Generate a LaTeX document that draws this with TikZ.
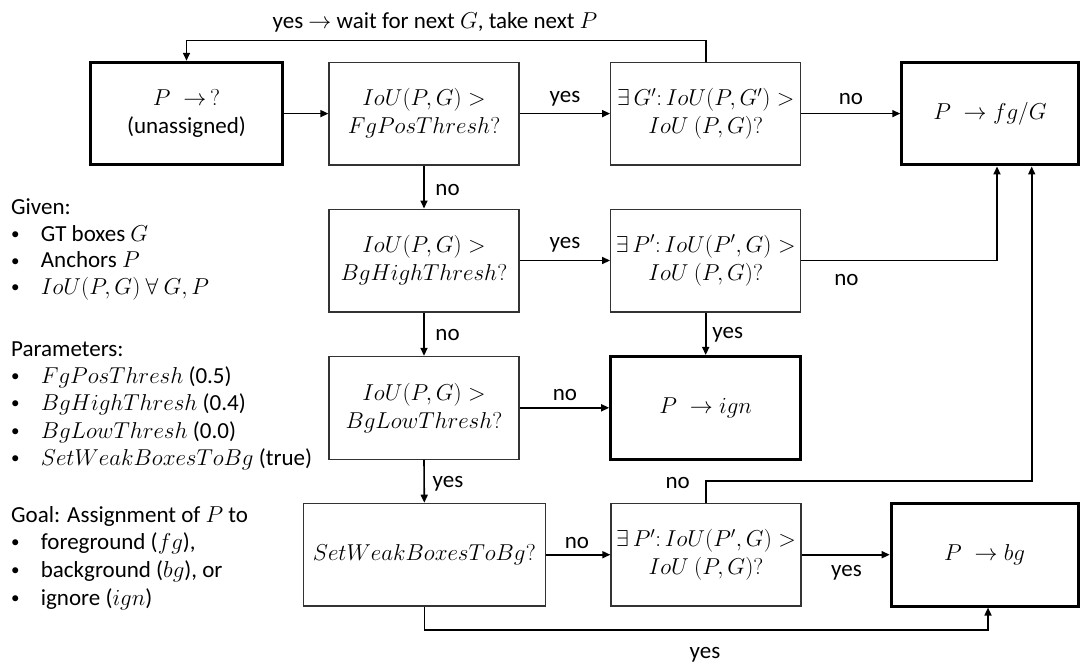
\RequirePackage{fix-cm}
\documentclass[tikz,border=0pt]{standalone}
\usepackage{fontspec}
\setmainfont{Carlito}
\usetikzlibrary{arrows.meta}

% small list bullet followed by the item indent
\newcommand{\itemdot}{\makebox[30.7pt][l]{\hspace{1pt}\raisebox{1.5pt}{\fontsize{17}{17}\selectfont •}}}

\begin{document}
\begin{tikzpicture}[x=1pt,y=-1pt,
  every node/.style={font=\fontsize{23}{28}\selectfont},
  box/.style={draw=black!80, line width=1.3pt, minimum height=102.7pt,
    inner sep=0pt, align=center},
  tbox/.style={box, draw=black, line width=3pt},
  arr/.style={draw=black, line width=1.6pt, -{Triangle[length=8pt,width=7pt]}},
  lbl/.style={inner sep=0pt},
  item/.style={anchor=base west, inner sep=0pt},
]
\useasboundingbox (0,0) rectangle (1081,664);

% decision and result boxes
\node[tbox, minimum width=191.8pt] (start) at (186.5,113.6) {$P\;\rightarrow\,?$\\(unassigned)};
\node[box, minimum width=190pt] (qfg) at (424,113.6) {$IoU(P,G) >$\\$FgPosThresh?$};
\node[box, minimum width=190pt] (qbestG) at (705.7,113.6) {$\exists\,G'\colon IoU(P,G') >$\\$IoU\ (P,G)?$};
\node[tbox, minimum width=176.3pt] (fg) at (989.9,113.6) {$P\;\rightarrow fg/G$};

\node[box, minimum width=190pt] (qhigh) at (424,260.5) {$IoU(P,G) >$\\$BgHighThresh?$};
\node[box, minimum width=190pt] (qbestP) at (705.7,260.5) {$\exists\,P'\colon IoU(P',G) >$\\$IoU\ (P,G)?$};

\node[box, minimum width=190pt] (qlow) at (424,407.8) {$IoU(P,G) >$\\$BgLowThresh?$};
\node[tbox, minimum width=190pt] (ign) at (705.7,407.8) {$P\;\rightarrow ign$};

\node[box, minimum width=242pt] (qweak) at (424.3,554.7) {$SetWeakBoxesToBg?$};
\node[box, minimum width=190pt] (qbestPw) at (706,554.7) {$\exists\,P'\colon IoU(P',G) >$\\$IoU\ (P,G)?$};
\node[tbox, minimum width=186.8pt] (bg) at (984.6,554.7) {$P\;\rightarrow bg$};

% routing helpers
\coordinate (loopY) at (0,40.5);
\coordinate (railY) at (0,481);
\coordinate (lowY) at (0,630);
\coordinate (xA) at (997,0);
\coordinate (xB) at (1031.7,0);
\coordinate (xC) at (988,0);

% connectors
\draw[arr] (qbestG.north) -- (qbestG.north |- loopY) -| (start.north);
\draw[arr] (start.east) -- (qfg.west);
\draw[arr] (qfg.east) -- (qbestG.west);
\draw[arr] (qbestG.east) -- (fg.west);
\draw[arr] (qfg.south) -- (qhigh.north);
\draw[arr] (qhigh.east) -- (qbestP.west);
\draw[arr] (qbestP.east) -| (fg.south -| xA);
\draw[arr] (qbestP.south) -- (ign.north);
\draw[arr] (qhigh.south) -- (qlow.north);
\draw[arr] (qlow.east) -- (ign.west);
\draw[arr] (qlow.south) -- (qweak.north);
\draw[arr] (qweak.east) -- (qbestPw.west);
\draw[arr] (qbestPw.east) -- (bg.west);
\draw[arr] (qbestPw.north) -- (qbestPw.north |- railY) -| (fg.south -| xB);
\draw[arr] (qweak.south) -- (qweak.south |- lowY) -| (bg.south -| xC);

% connector labels
\node[lbl] (lLoop) at (435,22) {yes $\rightarrow$ wait for next $G$, take next $P$};
\node[lbl] (lYes1) at (565,99) {yes};
\node[lbl] (lNo1) at (851,99) {no};
\node[lbl] (lNo2) at (447.6,190) {no};
\node[lbl] (lYes2) at (565,245) {yes};
\node[lbl] (lNo3) at (846.5,280) {no};
\node[lbl] (lYes3) at (727.7,335) {yes};
\node[lbl] (lNo4) at (447.6,335) {no};
\node[lbl] (lNo5) at (565,395) {no};
\node[lbl] (lYes4) at (448,484) {yes};
\node[lbl] (lNo6) at (577,543) {no};
\node[lbl] (lYes5) at (846.5,573) {yes};
\node[lbl] (lNo7) at (677.7,483) {no};
\node[lbl] (lYes6) at (705,655) {yes};

% legend on the left
\node[item] (given) at (11,214) {Given:};
\node[item] (given1) at (10,241) {\itemdot GT boxes $G$};
\node[item] (given2) at (10,267.5) {\itemdot Anchors $P$};
\node[item] (given3) at (10,294) {\itemdot $IoU(P,G)\ \forall\ G,P$};

\node[item] (params) at (11,356) {Parameters:};
\node[item] (param1) at (10,383) {\itemdot $FgPosThresh$ (0.5)};
\node[item] (param2) at (10,410) {\itemdot $BgHighThresh$ (0.4)};
\node[item] (param3) at (10,438) {\itemdot $BgLowThresh$ (0.0)};
\node[item] (param4) at (10,465) {\itemdot $SetWeakBoxesToBg$ (true)};

\node[item] (goal) at (11,522) {Goal: Assignment of $P$ to};
\node[item] (goal1) at (10,549) {\itemdot foreground ($fg$),};
\node[item] (goal2) at (10,577) {\itemdot background ($bg$), or};
\node[item] (goal3) at (10,605) {\itemdot ignore ($ign$)};
\end{tikzpicture}
\end{document}
